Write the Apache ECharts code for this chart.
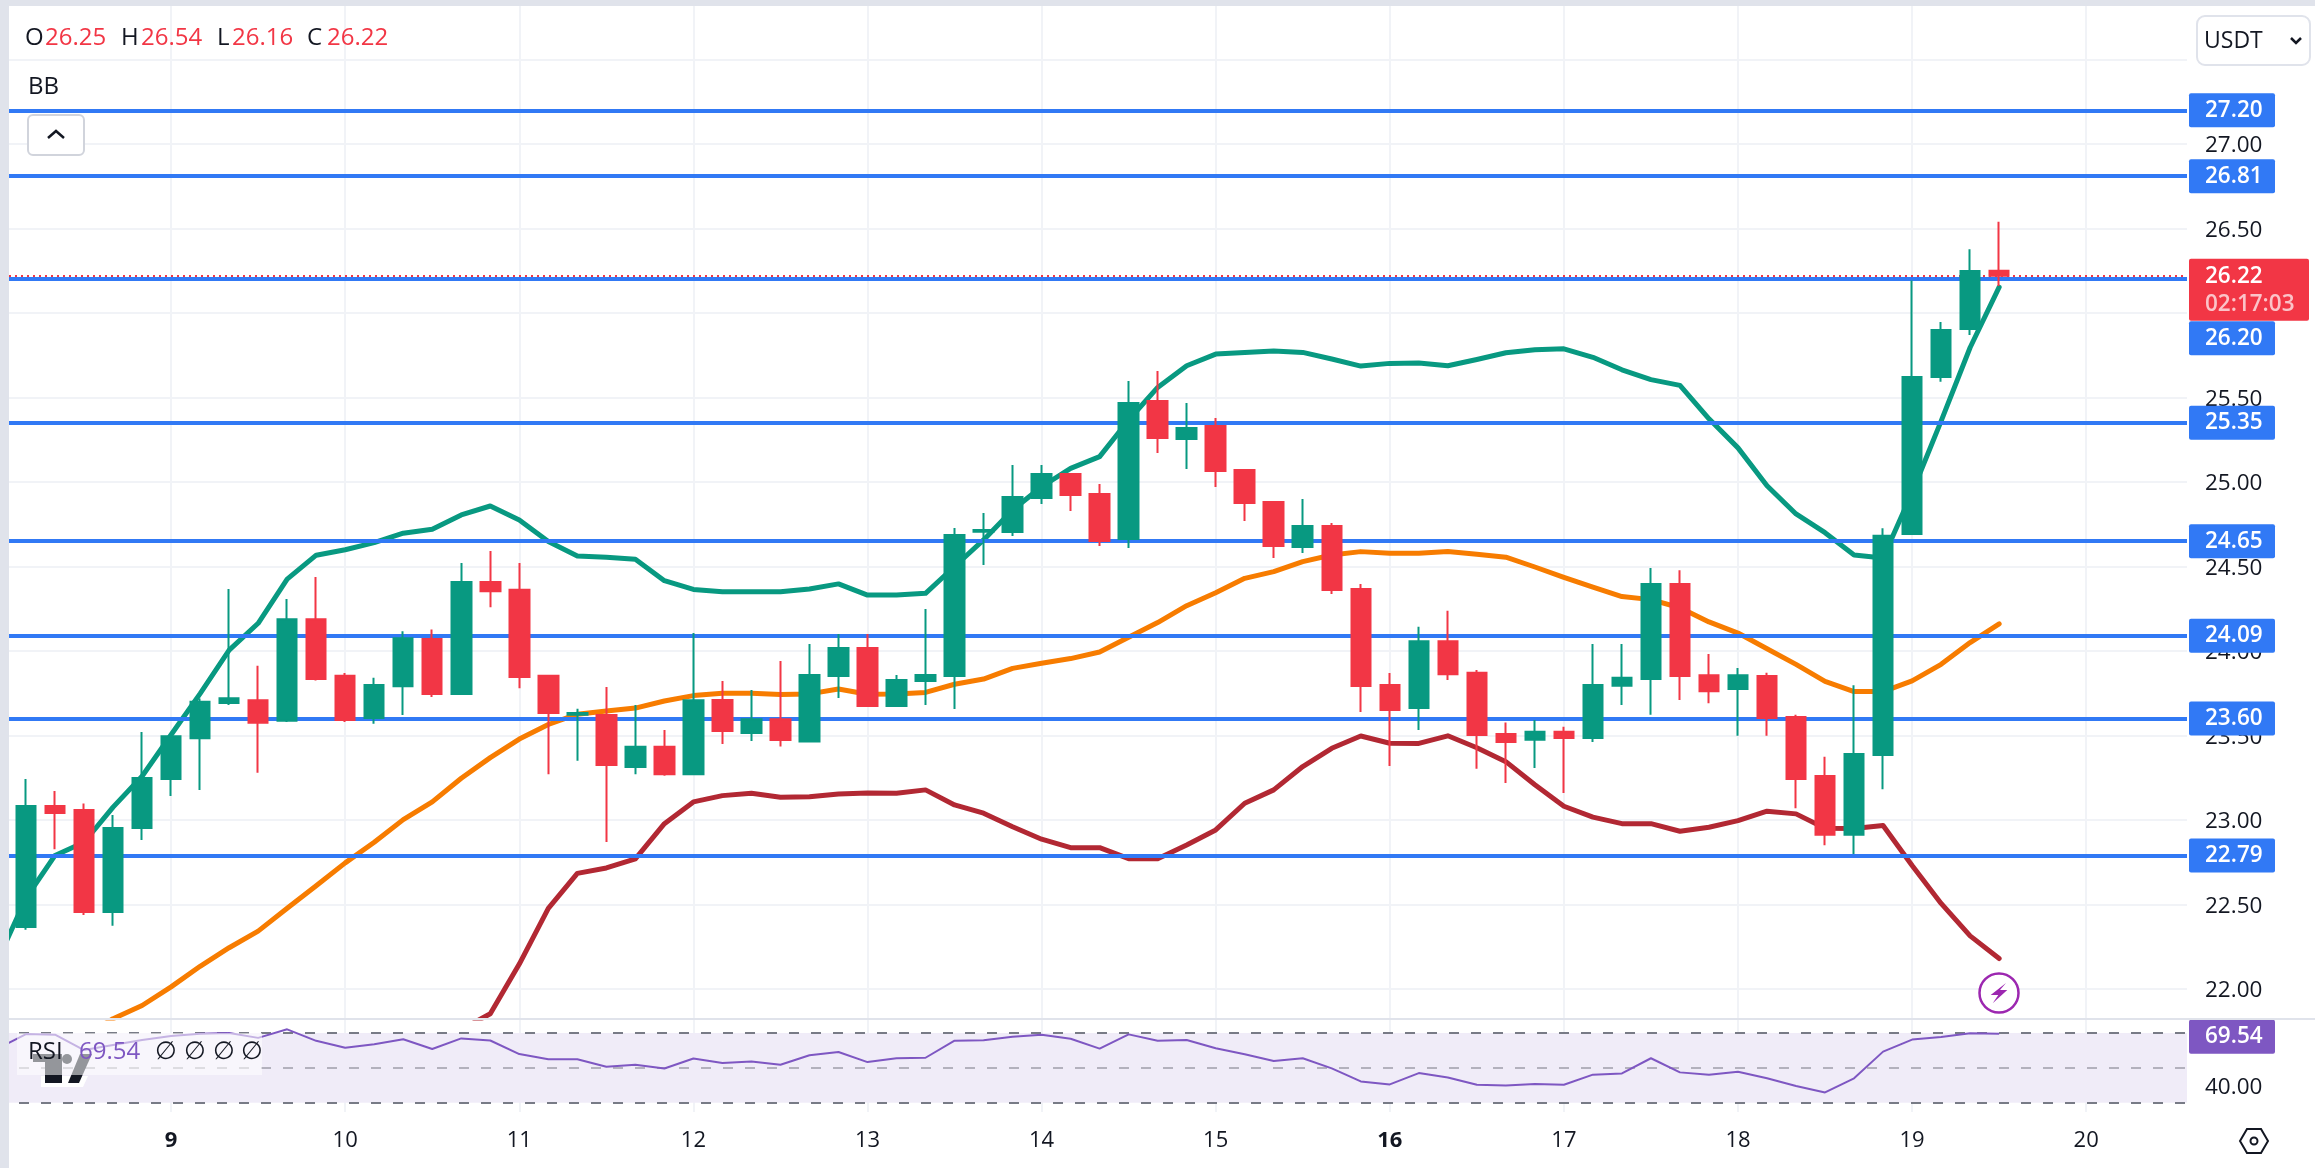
<!DOCTYPE html>
<html>
<head>
<meta charset="utf-8">
<title>USDT chart</title>
<script src="https://cdn.jsdelivr.net/npm/echarts@6/dist/echarts.min.js"></script>
<style>
html, body { margin: 0; padding: 0; background: #fff; }
#chart { width: 2315px; height: 1168px; }
</style>
</head>
<body>
<div id="chart"></div>
<script>
//candles, 4h each, first one is day 8 04:00
var opens = [22.367, 23.083, 23.059, 22.455, 22.953, 23.242, 23.484, 23.692, 23.709, 23.587, 24.188, 23.853, 23.604, 23.792, 24.071, 23.746, 24.408, 24.362, 23.853, 23.623, 23.621, 23.313, 23.433, 23.271,
    23.71, 23.515, 23.596, 23.464, 23.852, 24.018, 23.675, 23.823, 23.852, 24.706, 24.704, 24.905, 25.047, 24.929, 24.663, 25.479, 25.255, 25.331, 25.071, 24.882, 24.615, 24.74, 24.367, 23.799,
    23.662, 24.058, 23.871, 23.509, 23.474, 23.522, 23.485, 23.794, 23.834, 24.396, 23.857, 23.775, 23.852, 23.609, 23.26, 22.912, 23.385, 24.692, 25.622, 25.905, 26.25];
var closes = [23.083, 23.041, 22.455, 22.953, 23.249, 23.496, 23.699, 23.721, 23.575, 24.188, 23.834, 23.592, 23.799, 24.076, 23.746, 24.408, 24.354, 23.846, 23.633, 23.633, 23.325, 23.433, 23.271, 23.709,
    23.527, 23.596, 23.473, 23.858, 24.018, 23.675, 23.829, 23.858, 24.686, 24.716, 24.911, 25.047, 24.923, 24.651, 25.468, 25.26, 25.32, 25.065, 24.876, 24.621, 24.74, 24.361, 23.793, 23.651,
    24.058, 23.863, 23.503, 23.461, 23.522, 23.485, 23.799, 23.842, 24.396, 23.852, 23.762, 23.857, 23.604, 23.242, 22.912, 23.39, 24.682, 25.622, 25.9, 26.248, 26.22];
var lows = [22.35, 22.826, 22.438, 22.374, 22.882, 23.142, 23.178, 23.68, 23.279, 23.579, 23.826, 23.579, 23.57, 23.621, 23.728, 23.746, 24.259, 23.78, 23.271, 23.35, 22.87, 23.271, 23.261, 23.271,
    23.45, 23.468, 23.434, 23.464, 23.722, 23.675, 23.669, 23.681, 23.657, 24.509, 24.681, 24.87, 24.828, 24.621, 24.61, 25.172, 25.077, 24.97, 24.769, 24.55, 24.58, 24.337, 23.639, 23.32,
    23.533, 23.828, 23.303, 23.218, 23.308, 23.16, 23.461, 23.68, 23.622, 23.71, 23.691, 23.498, 23.498, 23.07, 22.851, 22.798, 23.181, 24.687, 25.593, 25.87, 26.16];
var highs = [23.242, 23.171, 23.098, 23.03, 23.521, 23.5, 23.719, 24.367, 23.912, 24.308, 24.438, 23.87, 23.841, 24.117, 24.127, 24.521, 24.592, 24.521, 23.853, 23.658, 23.787, 23.68, 23.533, 24.107,
    23.823, 23.769, 23.941, 24.041, 24.101, 24.101, 23.858, 24.249, 24.728, 24.817, 25.101, 25.101, 25.047, 24.988, 25.598, 25.657, 25.468, 25.379, 25.077, 24.882, 24.899, 24.757, 24.396, 23.87,
    24.143, 24.238, 23.887, 23.577, 23.591, 23.551, 24.042, 24.042, 24.491, 24.478, 23.982, 23.9, 23.871, 23.622, 23.374, 23.797, 24.727, 26.193, 25.947, 26.378, 26.54];

//BB and RSI start one bar earlier, off the left edge
var bbUpper = [22.16, 22.538, 22.79, 22.868, 23.076, 23.259, 23.504, 23.748, 24.005, 24.164, 24.425, 24.567, 24.599, 24.641, 24.697, 24.721, 24.805, 24.858, 24.775, 24.648, 24.562, 24.555, 24.543, 24.416, 24.364,
    24.351, 24.351, 24.351, 24.367, 24.397, 24.331, 24.331, 24.341, 24.5, 24.657, 24.834, 24.972, 25.081, 25.15, 25.367, 25.56, 25.688, 25.757, 25.767, 25.775, 25.767, 25.728, 25.686, 25.702,
    25.704, 25.688, 25.725, 25.765, 25.783, 25.788, 25.738, 25.664, 25.606, 25.572, 25.374, 25.202, 24.978, 24.811, 24.7, 24.568, 24.55, 24.938, 25.36, 25.796, 26.153];
var bbMiddle = [21.425, 21.523, 21.621, 21.719, 21.824, 21.902, 22.012, 22.134, 22.244, 22.342, 22.477, 22.611, 22.746, 22.868, 23.002, 23.107, 23.247, 23.369, 23.479, 23.565, 23.626, 23.645, 23.662, 23.704, 23.736,
    23.75, 23.75, 23.742, 23.746, 23.775, 23.744, 23.746, 23.755, 23.803, 23.834, 23.897, 23.927, 23.955, 23.994, 24.081, 24.168, 24.268, 24.345, 24.43, 24.47, 24.529, 24.568, 24.588, 24.578,
    24.579, 24.589, 24.573, 24.555, 24.497, 24.436, 24.378, 24.322, 24.304, 24.256, 24.172, 24.106, 24.013, 23.921, 23.82, 23.76, 23.76, 23.823, 23.921, 24.05, 24.161];
var bbLower = [20.3, 20.48, 20.62, 20.74, 20.85, 20.93, 21.02, 21.1, 21.2, 21.27, 21.34, 21.4, 21.47, 21.55, 21.62, 21.7, 21.76, 21.853, 22.147, 22.477, 22.684, 22.716, 22.77, 22.978, 23.107,
    23.144, 23.158, 23.134, 23.138, 23.154, 23.16, 23.158, 23.178, 23.089, 23.04, 22.96, 22.886, 22.836, 22.836, 22.771, 22.771, 22.852, 22.941, 23.099, 23.178, 23.316, 23.424, 23.497, 23.454,
    23.453, 23.498, 23.427, 23.345, 23.208, 23.081, 23.017, 22.978, 22.978, 22.933, 22.957, 22.996, 23.052, 23.036, 22.951, 22.949, 22.967, 22.73, 22.506, 22.314, 22.18];
var rsiValues = [60.8, 69.4, 69, 60.2, 63.1, 66, 68.3, 69.5, 70, 67.2, 72.1, 65.5, 61.5, 63.6, 66.4, 60.8, 66.9, 65.7, 57.9, 54.9, 54.9, 50.6, 51.8, 49.6, 55.4,
    52.8, 53.7, 51.8, 57.2, 59.1, 53.3, 55.5, 55.8, 65.6, 65.8, 67.9, 69, 66.7, 61, 69.2, 65.6, 66, 61.2, 57.8, 53.9, 55.5, 49.7, 42.2, 40.5,
    47, 44.5, 40.3, 39.8, 40.7, 40.3, 46.1, 46.8, 55.5, 47.4, 46.1, 47.8, 44, 39.6, 35.9, 44, 59.3, 66.2, 67.7, 69.8, 69.54];

var levels = [27.20, 26.81, 26.20, 25.35, 24.65, 24.09, 23.60, 22.79];
var lastPrice = 26.22;
var countdown = '02:17:03';
var lastRsi = 69.54;
var dayTicks = [9, 10, 11, 12, 13, 14, 15, 16, 17, 18, 19, 20];
var priceLines = [27.5, 27, 26.5, 26, 25.5, 25, 24.5, 24, 23.5, 23, 22.5, 22];
var priceLabels = [27, 26.5, 25.5, 25, 24.5, 24, 23.5, 23, 22.5, 22];
var rsiLevels = [70, 50, 30];
var header = [['O', '26.25'], ['H', '26.54'], ['L', '26.16'], ['C', '26.22']];

var font = '"Open Sans"';
var textColor = '#131722';
var upColor = '#089981';
var downColor = '#f23645';
var levelColor = '#3179f5';
var rsiColor = '#7e57c2';
var gridColor = '#f1f3f7';

var dayMin = 8, dayMax = 20.579;
var barDay = function (i) { return 8 + i / 6; };

var candleData = opens.map(function (o, i) {
    return [barDay(i + 1), o, closes[i], lows[i], highs[i]];
});
var toLine = function (arr) {
    return arr.map(function (v, i) { return [barDay(i), v]; });
};

var xAxisBase = function (grid, withLabels) {
    return {
        type: 'value',
        gridIndex: grid,
        min: dayMin,
        max: dayMax,
        axisLine: { show: false },
        axisTick: { show: false, customValues: dayTicks },
        splitLine: { show: true, lineStyle: { color: gridColor, width: 2 } },
        axisLabel: {
            show: withLabels,
            customValues: dayTicks,
            margin: 18,
            fontFamily: font,
            fontSize: 22,
            color: textColor,
            formatter: function (v) {
                return (v === 9 || v === 16) ? '{b|' + v + '}' : '' + v;
            },
            rich: { b: { fontFamily: font, fontSize: 22, fontWeight: 'bold', color: textColor } }
        }
    };
};

var yAxisBase = function (grid, min, max, lineVals, labelVals) {
    return {
        type: 'value',
        gridIndex: grid,
        position: 'right',
        min: min,
        max: max,
        axisLine: { show: false },
        axisTick: { show: false, customValues: lineVals },
        splitLine: { show: true, lineStyle: { color: gridColor, width: 2 } },
        axisLabel: {
            customValues: labelVals,
            margin: 18,
            align: 'left',
            formatter: function (v) { return '{p|' + v.toFixed(2) + '}'; },
            rich: {
                p: {
                    fontFamily: font,
                    fontSize: 22.5,
                    color: textColor,
                    padding: [4, 0, 0, 0]
                }
            }
        }
    };
};

//price tags in the right scale
var tagLabel = function (text, color, dy) {
    return {
        show: true,
        position: 'right',
        distance: 2,
        offset: [0, dy],
        formatter: text,
        width: 54,
        padding: [1, 16, 0, 16],
        lineHeight: 33,
        fontFamily: font,
        fontSize: 22.5,
        fontWeight: 600,
        color: '#fff',
        backgroundColor: color,
        borderRadius: 2
    };
};

var levelTags = levels.map(function (v) {
    return {
        value: [dayMax, v],
        label: tagLabel(v.toFixed(2), levelColor, v === 26.20 ? 59 : 0)
    };
});

var option = {
    animation: false,
    backgroundColor: '#fff',
    grid: [
        { left: -3, right: 128, top: 6, height: 1012, outerBoundsMode: 'none' },
        { left: -3, right: 128, top: 1019, height: 93, outerBoundsMode: 'none' }
    ],
    xAxis: [xAxisBase(0, false), xAxisBase(1, true)],
    yAxis: [
        yAxisBase(0, 21.828, 27.817, priceLines, priceLabels),
        yAxisBase(1, 24.66, 78.03, [40], [40])
    ],
    series: [
        //BB fill between lower and upper
        {
            type: 'line', stack: 'bb', z: 1, symbol: 'none', silent: true,
            lineStyle: { width: 0 },
            data: toLine(bbLower)
        },
        {
            type: 'line', stack: 'bb', z: 1, symbol: 'none', silent: true,
            lineStyle: { width: 0 },
            areaStyle: { color: '#f4fafe', opacity: 1 },
            data: toLine(bbUpper.map(function (v, i) { return v - bbLower[i]; }))
        },
        {
            name: 'BB upper', type: 'line', z: 2, symbol: 'none',
            lineStyle: { color: upColor, width: 5, cap: 'round', join: 'round' },
            data: toLine(bbUpper)
        },
        {
            name: 'BB basis', type: 'line', z: 2, symbol: 'none',
            lineStyle: { color: '#f77c00', width: 5, cap: 'round', join: 'round' },
            data: toLine(bbMiddle)
        },
        {
            name: 'BB lower', type: 'line', z: 2, symbol: 'none',
            lineStyle: { color: '#b22833', width: 5, cap: 'round', join: 'round' },
            data: toLine(bbLower)
        },
        {
            name: 'Candles',
            type: 'candlestick',
            z: 4,
            barWidth: 20,
            itemStyle: {
                color: upColor,
                color0: downColor,
                borderColor: upColor,
                borderColor0: downColor,
                borderWidth: 2
            },
            data: candleData,
            markLine: {
                z: 3,
                silent: true,
                symbol: 'none',
                animation: false,
                label: { show: false },
                data: levels.map(function (v) {
                    return { yAxis: v, lineStyle: { color: levelColor, width: 4, type: 'solid' } };
                }).concat([
                    { yAxis: lastPrice, lineStyle: { color: downColor, width: 2, type: [2, 4] } }
                ])
            }
        },
        {
            name: 'Level tags', type: 'scatter', z: 6, symbolSize: 0, silent: true,
            itemStyle: { opacity: 1 },
            data: levelTags
        },
        {
            name: 'Last price tag', type: 'scatter', z: 7, symbolSize: 0, silent: true,
            itemStyle: { opacity: 1 },
            data: [{
                value: [dayMax, lastPrice],
                label: {
                    show: true,
                    position: 'right',
                    distance: 2,
                    offset: [0, 14],
                    formatter: '{a|' + lastPrice.toFixed(2) + '}\n{b|' + countdown + '}',
                    width: 100,
                    padding: [3, 4, 2, 16],
                    backgroundColor: downColor,
                    borderRadius: 2,
                    rich: {
                        a: { fontFamily: font, fontSize: 22.5, fontWeight: 600, color: '#fff', lineHeight: 29 },
                        b: { fontFamily: font, fontSize: 22.5, fontWeight: 600, color: '#fbc3c8', lineHeight: 28 }
                    }
                }
            }]
        },
        {
            name: 'RSI', type: 'line', xAxisIndex: 1, yAxisIndex: 1, z: 3, symbol: 'none',
            lineStyle: { color: rsiColor, width: 2 },
            data: toLine(rsiValues),
            markArea: {
                z: 1,
                silent: true,
                itemStyle: { color: '#f0ecf8' },
                data: [[{ yAxis: rsiLevels[2] }, { yAxis: rsiLevels[0] }]]
            },
            markLine: {
                z: 2,
                silent: true,
                symbol: 'none',
                animation: false,
                label: { show: false },
                data: rsiLevels.map(function (v) {
                    return {
                        yAxis: v,
                        lineStyle: { color: v === 50 ? '#b3b1bd' : '#787b86', width: 2, type: [10, 12] }
                    };
                })
            }
        },
        {
            name: 'RSI tag', type: 'scatter', xAxisIndex: 1, yAxisIndex: 1, z: 6, symbolSize: 0, silent: true,
            itemStyle: { opacity: 1 },
            data: [{ value: [dayMax, lastRsi], label: tagLabel(lastRsi.toFixed(2), rsiColor, 3) }]
        }
    ],
    graphic: { elements: buildDecor() }
};

//page furniture around the chart: frame, legends, buttons, badge, logo
function buildDecor() {
    var z = 50;
    var rect = function (x, y, w, h, fill, r, stroke) {
        return {
            type: 'rect', z: z, silent: true,
            shape: { x: x, y: y, width: w, height: h, r: r || 0 },
            style: { fill: fill, stroke: stroke || null, lineWidth: stroke ? 2 : 0 }
        };
    };
    var text = function (x, y, str, color, size) {
        return {
            type: 'text', z: z + 5, silent: true, x: x, y: y,
            style: {
                text: str, fill: color, fontFamily: font, fontSize: size || 24,
                textAlign: 'left', textVerticalAlign: 'middle'
            }
        };
    };
    var poly = function (pts, fill, z2) {
        return { type: 'polygon', z: z2 || z, silent: true, shape: { points: pts }, style: { fill: fill } };
    };
    var stroke = function (pts, color, w) {
        return {
            type: 'polyline', z: z + 1, silent: true, shape: { points: pts },
            style: { stroke: color, lineWidth: w || 2.5, fill: null }
        };
    };

    var els = [
        rect(0, 0, 2315, 6, '#e0e3eb'),
        rect(0, 0, 9, 1168, '#e0e3eb'),
        rect(0, 1018, 2315, 2, '#e0e3eb'),
        //select box
        rect(2197, 16, 113, 49, '#fff', 8, '#e0e3eb'),
        text(2204, 41, 'USDT', textColor, 23),
        stroke([[2291, 38], [2296, 43], [2301, 38]], textColor, 2.5),
        //BB legend
        rect(17, 72, 48, 37, 'rgba(255,255,255,.6)'),
        text(28, 87, 'BB', textColor, 24),
        rect(28, 115, 56, 40, '#fff', 5, '#d1d4dc'),
        stroke([[48, 138], [56, 131], [64, 138]], textColor, 2.5),
        //alert badge
        {
            type: 'circle', z: z, silent: true,
            shape: { cx: 1999, cy: 993, r: 19.5 },
            style: { fill: '#fff', stroke: '#9c27b0', lineWidth: 2.5 }
        },
        poly([[2006, 983], [1990.7, 995], [1998.3, 995], [1992.7, 1003.3], [2007.3, 990], [2000, 990]], '#9c27b0'),
        //settings gear
        {
            type: 'polygon', z: z, silent: true,
            shape: { points: [[2240, 1141], [2247, 1129], [2261, 1129], [2268, 1141], [2261, 1153], [2247, 1153]] },
            style: { fill: '#fff', stroke: textColor, lineWidth: 2 }
        },
        {
            type: 'circle', z: z + 1, silent: true,
            shape: { cx: 2254, cy: 1141, r: 3.5 },
            style: { fill: '#fff', stroke: textColor, lineWidth: 2 }
        },
        //logo under the RSI legend
        poly([[41, 1076], [88, 1076], [83, 1087], [41, 1087]], '#fff', z),
        poly([[33, 1054], [62, 1054], [62, 1083], [45, 1083], [45, 1062], [33, 1062]], textColor, z + 1),
        { type: 'circle', z: z + 1, silent: true, shape: { cx: 67, cy: 1059, r: 5 }, style: { fill: textColor } },
        poly([[80, 1054], [92, 1054], [79, 1083], [68, 1083]], textColor, z + 1),
        {
            type: 'rect', z: z + 2, silent: true,
            shape: { x: 17, y: 1033, width: 245, height: 42 },
            style: { fill: 'rgba(255,255,255,.55)' }
        },
        text(28, 1052, 'RSI', textColor, 24),
        text(79, 1052, lastRsi.toFixed(2), rsiColor, 24)
    ];

    //empty RSI legend values
    [155, 184, 213, 241].forEach(function (x) {
        els.push(text(x, 1052, '∅', textColor, 25));
    });

    //OHLC header
    var headX = [25, 121, 217, 307];
    header.forEach(function (h, i) {
        els.push(text(headX[i], 38, h[0], textColor, 24));
        els.push(text(headX[i] + (h[0] === 'L' ? 15 : 20), 38, h[1], downColor, 24));
    });
    return els;
}

var myChart = echarts.init(document.getElementById('chart'));
myChart.setOption(option);
</script>
</body>
</html>
